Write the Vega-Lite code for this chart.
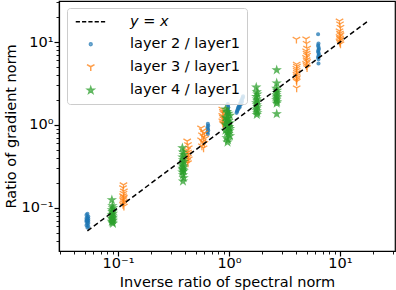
{
  "$schema": "https://vega.github.io/schema/vega-lite/v6.json",
  "width": 336,
  "height": 250,
  "autosize": {"type": "none"},
  "padding": {"left": 59, "top": 1, "right": 1, "bottom": 39},
  "background": "white",
  "config": {
    "font": "DejaVu Sans",
    "view": {"stroke": "black", "strokeWidth": 1.2},
    "axis": {
      "domainColor": "black", "domainWidth": 1.2, "tickColor": "black",
      "labelColor": "black", "titleColor": "black", "labelFontSize": 14.5, "titleFontSize": 14.5,
      "titleFontWeight": "normal", "grid": false, "labelFont": "DejaVu Sans", "titleFont": "DejaVu Sans",
      "labelOverlap": false, "labelFlush": false, "labelBound": false
    },
    "legend": {"labelFont": "DejaVu Sans", "labelFontSize": 14.5, "labelColor": "black"}
  },
  "layer": [
    {
      "data": {"values": [
        {"s":"layer 2 / layer1","x":0.053,"y":0.085},{"s":"layer 2 / layer1","x":0.052,"y":0.082},{"s":"layer 2 / layer1","x":0.054,"y":0.079},{"s":"layer 2 / layer1","x":0.053,"y":0.077},{"s":"layer 2 / layer1","x":0.052,"y":0.075},{"s":"layer 2 / layer1","x":0.054,"y":0.074},{"s":"layer 2 / layer1","x":0.053,"y":0.072},{"s":"layer 2 / layer1","x":0.052,"y":0.071},{"s":"layer 2 / layer1","x":0.054,"y":0.070},{"s":"layer 2 / layer1","x":0.053,"y":0.069},{"s":"layer 2 / layer1","x":0.052,"y":0.068},{"s":"layer 2 / layer1","x":0.054,"y":0.066},{"s":"layer 2 / layer1","x":0.053,"y":0.064},{"s":"layer 2 / layer1","x":0.052,"y":0.062},{"s":"layer 2 / layer1","x":0.054,"y":0.060},{"s":"layer 2 / layer1","x":0.053,"y":0.058},
        {"s":"layer 2 / layer1","x":0.645,"y":1.03},{"s":"layer 2 / layer1","x":0.65,"y":0.98},{"s":"layer 2 / layer1","x":0.64,"y":0.94},{"s":"layer 2 / layer1","x":0.645,"y":0.90},{"s":"layer 2 / layer1","x":0.65,"y":0.86},{"s":"layer 2 / layer1","x":0.64,"y":0.82},{"s":"layer 2 / layer1","x":0.645,"y":0.78},
        {"s":"layer 2 / layer1","x":0.975,"y":1.79},{"s":"layer 2 / layer1","x":0.98,"y":1.70},{"s":"layer 2 / layer1","x":0.985,"y":1.62},{"s":"layer 2 / layer1","x":0.975,"y":1.55},{"s":"layer 2 / layer1","x":0.98,"y":1.48},{"s":"layer 2 / layer1","x":0.985,"y":1.42},{"s":"layer 2 / layer1","x":0.98,"y":1.36},
        {"s":"layer 2 / layer1","x":1.17,"y":1.40},{"s":"layer 2 / layer1","x":1.18,"y":1.45},{"s":"layer 2 / layer1","x":1.19,"y":1.50},{"s":"layer 2 / layer1","x":1.20,"y":1.55},{"s":"layer 2 / layer1","x":1.21,"y":1.62},{"s":"layer 2 / layer1","x":1.22,"y":1.58},{"s":"layer 2 / layer1","x":1.23,"y":1.68},{"s":"layer 2 / layer1","x":1.24,"y":1.72},{"s":"layer 2 / layer1","x":1.25,"y":1.65},{"s":"layer 2 / layer1","x":1.26,"y":1.80},{"s":"layer 2 / layer1","x":1.27,"y":1.85},{"s":"layer 2 / layer1","x":1.28,"y":1.78},{"s":"layer 2 / layer1","x":1.29,"y":1.95},{"s":"layer 2 / layer1","x":1.30,"y":2.0},{"s":"layer 2 / layer1","x":1.31,"y":1.90},{"s":"layer 2 / layer1","x":1.32,"y":2.08},{"s":"layer 2 / layer1","x":1.33,"y":2.15},{"s":"layer 2 / layer1","x":1.34,"y":2.22},
        {"s":"layer 2 / layer1","x":6.35,"y":12.4},{"s":"layer 2 / layer1","x":6.4,"y":9.6},{"s":"layer 2 / layer1","x":6.35,"y":9.1},{"s":"layer 2 / layer1","x":6.4,"y":8.7},{"s":"layer 2 / layer1","x":6.45,"y":8.3},{"s":"layer 2 / layer1","x":6.4,"y":8.0},{"s":"layer 2 / layer1","x":6.35,"y":7.7},{"s":"layer 2 / layer1","x":6.4,"y":7.4},{"s":"layer 2 / layer1","x":6.45,"y":7.1},{"s":"layer 2 / layer1","x":6.4,"y":6.8},{"s":"layer 2 / layer1","x":6.35,"y":6.5},{"s":"layer 2 / layer1","x":6.4,"y":6.2},{"s":"layer 2 / layer1","x":6.4,"y":5.5},
        {"s":"layer 3 / layer1","x":0.112,"y":0.19},{"s":"layer 3 / layer1","x":0.111,"y":0.175},{"s":"layer 3 / layer1","x":0.113,"y":0.16},{"s":"layer 3 / layer1","x":0.112,"y":0.15},{"s":"layer 3 / layer1","x":0.111,"y":0.14},{"s":"layer 3 / layer1","x":0.113,"y":0.135},{"s":"layer 3 / layer1","x":0.112,"y":0.13},{"s":"layer 3 / layer1","x":0.111,"y":0.125},{"s":"layer 3 / layer1","x":0.113,"y":0.12},{"s":"layer 3 / layer1","x":0.112,"y":0.115},{"s":"layer 3 / layer1","x":0.111,"y":0.11},{"s":"layer 3 / layer1","x":0.113,"y":0.105},
        {"s":"layer 3 / layer1","x":0.42,"y":0.64},{"s":"layer 3 / layer1","x":0.427,"y":0.58},{"s":"layer 3 / layer1","x":0.434,"y":0.53},{"s":"layer 3 / layer1","x":0.42,"y":0.50},{"s":"layer 3 / layer1","x":0.427,"y":0.47},{"s":"layer 3 / layer1","x":0.434,"y":0.45},{"s":"layer 3 / layer1","x":0.42,"y":0.43},{"s":"layer 3 / layer1","x":0.427,"y":0.41},{"s":"layer 3 / layer1","x":0.434,"y":0.39},{"s":"layer 3 / layer1","x":0.42,"y":0.37},{"s":"layer 3 / layer1","x":0.427,"y":0.35},
        {"s":"layer 3 / layer1","x":0.56,"y":0.92},{"s":"layer 3 / layer1","x":0.58,"y":0.85},{"s":"layer 3 / layer1","x":0.60,"y":0.80},{"s":"layer 3 / layer1","x":0.57,"y":0.76},{"s":"layer 3 / layer1","x":0.59,"y":0.72},{"s":"layer 3 / layer1","x":0.61,"y":0.69},{"s":"layer 3 / layer1","x":0.56,"y":0.66},{"s":"layer 3 / layer1","x":0.58,"y":0.63},{"s":"layer 3 / layer1","x":0.60,"y":0.60},{"s":"layer 3 / layer1","x":0.57,"y":0.56},{"s":"layer 3 / layer1","x":0.59,"y":0.53},
        {"s":"layer 3 / layer1","x":0.87,"y":1.55},{"s":"layer 3 / layer1","x":0.88,"y":1.45},{"s":"layer 3 / layer1","x":0.89,"y":1.38},{"s":"layer 3 / layer1","x":0.87,"y":1.30},{"s":"layer 3 / layer1","x":0.88,"y":1.24},{"s":"layer 3 / layer1","x":0.89,"y":1.18},{"s":"layer 3 / layer1","x":0.87,"y":1.12},{"s":"layer 3 / layer1","x":0.88,"y":1.06},{"s":"layer 3 / layer1","x":0.89,"y":1.02},
        {"s":"layer 3 / layer1","x":4.05,"y":10.8},{"s":"layer 3 / layer1","x":4.07,"y":5.4},{"s":"layer 3 / layer1","x":4.09,"y":5.1},{"s":"layer 3 / layer1","x":4.05,"y":4.8},{"s":"layer 3 / layer1","x":4.07,"y":4.55},{"s":"layer 3 / layer1","x":4.09,"y":4.3},{"s":"layer 3 / layer1","x":4.05,"y":4.1},{"s":"layer 3 / layer1","x":4.07,"y":3.9},{"s":"layer 3 / layer1","x":4.09,"y":3.7},{"s":"layer 3 / layer1","x":4.05,"y":3.5},{"s":"layer 3 / layer1","x":4.07,"y":3.35},{"s":"layer 3 / layer1","x":4.07,"y":2.8},
        {"s":"layer 3 / layer1","x":4.95,"y":10.9},{"s":"layer 3 / layer1","x":5.0,"y":9.6},{"s":"layer 3 / layer1","x":5.05,"y":8.4},{"s":"layer 3 / layer1","x":4.95,"y":7.8},{"s":"layer 3 / layer1","x":5.0,"y":7.3},{"s":"layer 3 / layer1","x":5.05,"y":6.9},{"s":"layer 3 / layer1","x":4.95,"y":6.5},{"s":"layer 3 / layer1","x":5.0,"y":6.1},{"s":"layer 3 / layer1","x":5.05,"y":5.8},{"s":"layer 3 / layer1","x":4.95,"y":5.5},{"s":"layer 3 / layer1","x":5.0,"y":5.2},{"s":"layer 3 / layer1","x":5.05,"y":4.9},
        {"s":"layer 3 / layer1","x":9.9,"y":17.9},{"s":"layer 3 / layer1","x":10.0,"y":16.5},{"s":"layer 3 / layer1","x":10.1,"y":15.0},{"s":"layer 3 / layer1","x":9.9,"y":13.6},{"s":"layer 3 / layer1","x":10.0,"y":12.8},{"s":"layer 3 / layer1","x":10.1,"y":12.2},{"s":"layer 3 / layer1","x":9.9,"y":11.6},{"s":"layer 3 / layer1","x":10.0,"y":11.1},{"s":"layer 3 / layer1","x":10.1,"y":10.7},{"s":"layer 3 / layer1","x":9.9,"y":10.3},{"s":"layer 3 / layer1","x":10.0,"y":9.9},{"s":"layer 3 / layer1","x":10.1,"y":9.5},
        {"s":"layer 4 / layer1","x":0.088,"y":0.125},{"s":"layer 4 / layer1","x":0.089,"y":0.106},{"s":"layer 4 / layer1","x":0.090,"y":0.100},{"s":"layer 4 / layer1","x":0.088,"y":0.095},{"s":"layer 4 / layer1","x":0.089,"y":0.090},{"s":"layer 4 / layer1","x":0.090,"y":0.086},{"s":"layer 4 / layer1","x":0.088,"y":0.083},{"s":"layer 4 / layer1","x":0.089,"y":0.080},{"s":"layer 4 / layer1","x":0.090,"y":0.077},{"s":"layer 4 / layer1","x":0.088,"y":0.075},{"s":"layer 4 / layer1","x":0.089,"y":0.073},{"s":"layer 4 / layer1","x":0.090,"y":0.071},{"s":"layer 4 / layer1","x":0.088,"y":0.069},{"s":"layer 4 / layer1","x":0.089,"y":0.067},{"s":"layer 4 / layer1","x":0.090,"y":0.065},
        {"s":"layer 4 / layer1","x":0.38,"y":0.53},{"s":"layer 4 / layer1","x":0.385,"y":0.47},{"s":"layer 4 / layer1","x":0.39,"y":0.44},{"s":"layer 4 / layer1","x":0.38,"y":0.41},{"s":"layer 4 / layer1","x":0.385,"y":0.38},{"s":"layer 4 / layer1","x":0.39,"y":0.36},{"s":"layer 4 / layer1","x":0.38,"y":0.34},{"s":"layer 4 / layer1","x":0.385,"y":0.32},{"s":"layer 4 / layer1","x":0.39,"y":0.31},{"s":"layer 4 / layer1","x":0.38,"y":0.30},{"s":"layer 4 / layer1","x":0.385,"y":0.29},{"s":"layer 4 / layer1","x":0.39,"y":0.28},{"s":"layer 4 / layer1","x":0.38,"y":0.27},{"s":"layer 4 / layer1","x":0.385,"y":0.25},{"s":"layer 4 / layer1","x":0.39,"y":0.23},{"s":"layer 4 / layer1","x":0.385,"y":0.21},
        {"s":"layer 4 / layer1","x":0.93,"y":1.55},{"s":"layer 4 / layer1","x":0.96,"y":1.45},{"s":"layer 4 / layer1","x":0.99,"y":1.38},{"s":"layer 4 / layer1","x":1.02,"y":1.30},{"s":"layer 4 / layer1","x":0.93,"y":1.24},{"s":"layer 4 / layer1","x":0.96,"y":1.18},{"s":"layer 4 / layer1","x":0.99,"y":1.12},{"s":"layer 4 / layer1","x":1.02,"y":1.06},{"s":"layer 4 / layer1","x":0.93,"y":1.02},{"s":"layer 4 / layer1","x":0.96,"y":0.98},{"s":"layer 4 / layer1","x":0.99,"y":0.94},{"s":"layer 4 / layer1","x":1.02,"y":0.90},{"s":"layer 4 / layer1","x":0.93,"y":0.86},{"s":"layer 4 / layer1","x":0.96,"y":0.82},{"s":"layer 4 / layer1","x":0.99,"y":0.78},{"s":"layer 4 / layer1","x":1.02,"y":0.74},{"s":"layer 4 / layer1","x":0.95,"y":0.70},{"s":"layer 4 / layer1","x":0.98,"y":0.66},{"s":"layer 4 / layer1","x":0.97,"y":0.62},{"s":"layer 4 / layer1","x":0.95,"y":1.10},{"s":"layer 4 / layer1","x":1.0,"y":0.95},{"s":"layer 4 / layer1","x":0.97,"y":1.20},{"s":"layer 4 / layer1","x":1.01,"y":0.85},
        {"s":"layer 4 / layer1","x":1.76,"y":2.85},{"s":"layer 4 / layer1","x":1.78,"y":2.5},{"s":"layer 4 / layer1","x":1.80,"y":2.35},{"s":"layer 4 / layer1","x":1.76,"y":2.2},{"s":"layer 4 / layer1","x":1.78,"y":2.05},{"s":"layer 4 / layer1","x":1.80,"y":1.95},{"s":"layer 4 / layer1","x":1.76,"y":1.85},{"s":"layer 4 / layer1","x":1.78,"y":1.75},{"s":"layer 4 / layer1","x":1.80,"y":1.65},{"s":"layer 4 / layer1","x":1.76,"y":1.56},{"s":"layer 4 / layer1","x":1.78,"y":1.48},{"s":"layer 4 / layer1","x":1.80,"y":1.40},{"s":"layer 4 / layer1","x":1.78,"y":1.33},
        {"s":"layer 4 / layer1","x":2.69,"y":4.6},{"s":"layer 4 / layer1","x":2.69,"y":3.2},{"s":"layer 4 / layer1","x":2.67,"y":2.75},{"s":"layer 4 / layer1","x":2.71,"y":2.6},{"s":"layer 4 / layer1","x":2.69,"y":2.45},{"s":"layer 4 / layer1","x":2.67,"y":2.3},{"s":"layer 4 / layer1","x":2.71,"y":2.2},{"s":"layer 4 / layer1","x":2.69,"y":2.1},{"s":"layer 4 / layer1","x":2.67,"y":2.0},{"s":"layer 4 / layer1","x":2.71,"y":1.9},{"s":"layer 4 / layer1","x":2.69,"y":1.82},{"s":"layer 4 / layer1","x":2.69,"y":1.36}
      ]},
      "mark": {"type": "point", "filled": true, "strokeWidth": 1.3},
      "encoding": {
        "x": {"field": "x", "type": "quantitative",
          "scale": {"type": "log", "domain": [0.0294, 31.3], "nice": false},
          "axis": {"title": "Inverse ratio of spectral norm",
            "values": [0.03,0.04,0.05,0.06,0.07,0.08,0.09,0.1,0.2,0.3,0.4,0.5,0.6,0.7,0.8,0.9,1,2,3,4,5,6,7,8,9,10,20,30],
            "labelExpr": "datum.value == 0.1 ? '10⁻¹' : datum.value == 1 ? '10⁰' : datum.value == 10 ? '10¹' : ''",
            "tickSize": {"condition": {"test": "datum.value == 0.1 || datum.value == 1 || datum.value == 10", "value": 5}, "value": 3},
            "tickWidth": {"condition": {"test": "datum.value == 0.1 || datum.value == 1 || datum.value == 10", "value": 1.2}, "value": 0.9},
            "labelPadding": 0, "titleY": 35, "titleBaseline": "alphabetic"}},
        "y": {"field": "y", "type": "quantitative",
          "scale": {"type": "log", "domain": [0.0303, 31.2], "nice": false},
          "axis": {"title": "Ratio of gradient norm",
            "values": [0.04,0.05,0.06,0.07,0.08,0.09,0.1,0.2,0.3,0.4,0.5,0.6,0.7,0.8,0.9,1,2,3,4,5,6,7,8,9,10,20,30],
            "labelExpr": "datum.value == 0.1 ? '10⁻¹' : datum.value == 1 ? '10⁰' : datum.value == 10 ? '10¹' : ''",
            "tickSize": {"condition": {"test": "datum.value == 0.1 || datum.value == 1 || datum.value == 10", "value": 5}, "value": 3},
            "tickWidth": {"condition": {"test": "datum.value == 0.1 || datum.value == 1 || datum.value == 10", "value": 1.2}, "value": 0.9},
            "labelPadding": 1, "titleX": -44, "titleY": 125, "titleBaseline": "alphabetic", "titleAlign": "center"}},
        "fill": {"field": "s", "type": "nominal",
          "scale": {"domain": ["y = x", "layer 2 / layer1", "layer 3 / layer1", "layer 4 / layer1"], "range": ["black", "#1f77b4", "#ff7f0e", "#2ca02c"]},
          "legend": {"title": null, "orient": "none", "legendX": 8, "legendY": 7, "labelOffset": 32, "symbolOffset": 10,
            "padding": 6.5, "rowPadding": 7.5, "fillColor": "rgba(255,255,255,0.8)", "strokeColor": "#cccccc", "cornerRadius": 3,
            "symbolStrokeWidth": 1.5,
            "labelFontStyle": {"expr": "datum.label === 'y = x' ? 'italic' : 'normal'"}}},
        "stroke": {"field": "s", "type": "nominal",
          "scale": {"domain": ["y = x", "layer 2 / layer1", "layer 3 / layer1", "layer 4 / layer1"], "range": ["black", "#1f77b4", "#ff7f0e", "#2ca02c"]}},
        "opacity": {"field": "s", "type": "nominal",
          "scale": {"type": "ordinal", "domain": ["y = x", "layer 2 / layer1", "layer 3 / layer1", "layer 4 / layer1"], "range": [1, 0.75, 0.75, 0.75]}},
        "shape": {"field": "s", "type": "nominal",
          "scale": {"domain": ["y = x", "layer 2 / layer1", "layer 3 / layer1", "layer 4 / layer1"],
            "range": ["M-5,0H-3.6M-2.9,0H-1.5M-0.8,0H0.6M1.3,0H2.7M3.4,0H4.8", "circle", "M0,0L0,1M0,0L-0.866,-0.5M0,0L0.866,-0.5", "M0,-1L0.2245,-0.309L0.9511,-0.309L0.3633,0.118L0.5878,0.809L0,0.382L-0.5878,0.809L-0.3633,0.118L-0.9511,-0.309L-0.2245,-0.309Z"]}},
        "size": {"field": "s", "type": "nominal",
          "scale": {"type": "ordinal", "domain": ["y = x", "layer 2 / layer1", "layer 3 / layer1", "layer 4 / layer1"], "range": [36, 8, 75, 45]}}
      }
    },
    {
      "data": {"values": [{"x": 0.053, "y": 0.053}, {"x": 17.5, "y": 17.5}]},
      "mark": {"type": "line", "color": "black", "strokeDash": [5, 3], "strokeWidth": 1.5},
      "encoding": {
        "x": {"field": "x", "type": "quantitative", "scale": {"type": "log", "domain": [0.0294, 31.3], "nice": false}},
        "y": {"field": "y", "type": "quantitative", "scale": {"type": "log", "domain": [0.0303, 31.2], "nice": false}}
      }
    }
  ]
}
